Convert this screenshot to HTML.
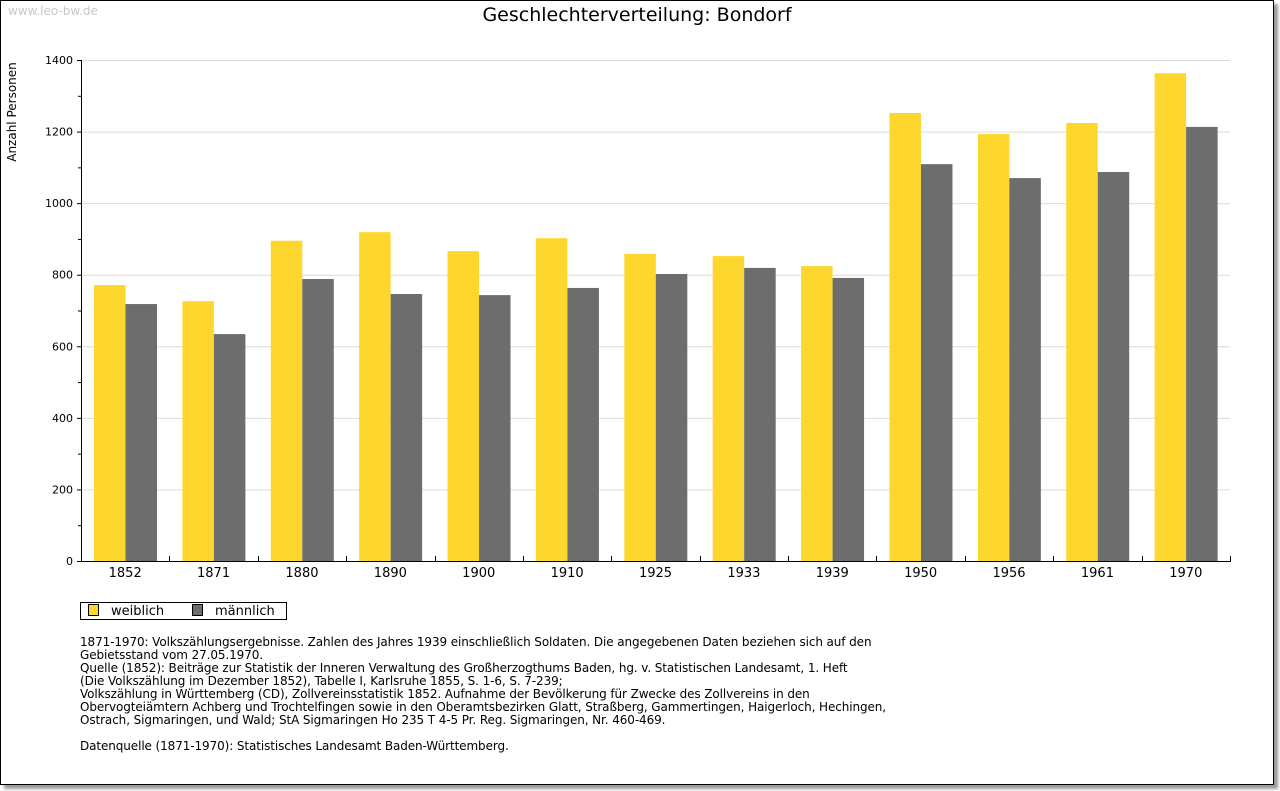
<!DOCTYPE html>
<html><head><meta charset="utf-8"><style>
body{margin:0;background:#fff;font-family:"Liberation Sans","DejaVu Sans",sans-serif;}
#frame{position:absolute;left:0;top:0;width:1272px;height:783px;border:1px solid #000;box-shadow:4px 4px 3px #999;background:#fff;}
.note{position:absolute;left:80px;top:636px;font-size:12px;line-height:13px;color:#000;font-family:"DejaVu Sans","Liberation Sans",sans-serif;letter-spacing:-0.1px;}
</style></head><body>
<div id="frame"></div>
<svg id="chart" width="1280" height="791" style="position:absolute;left:0;top:0" font-family="DejaVu Sans, Liberation Sans, sans-serif">
<text x="8" y="15" font-size="12" fill="#c8c8c8">www.leo-bw.de</text>
<text x="637" y="21" font-size="19" text-anchor="middle">Geschlechterverteilung: Bondorf</text>
<text transform="translate(16,112) rotate(-90)" font-size="12" text-anchor="middle">Anzahl Personen</text>
<g id="grid"></g><g id="bars"></g><g id="axes"></g>
<g>
<rect x="80.5" y="602.5" width="206" height="17" fill="#fff" stroke="#000"/>
<rect x="88.5" y="604.5" width="10" height="11" fill="#fdd72e" stroke="#000"/>
<text x="111" y="615" font-size="13">weiblich</text>
<rect x="192.5" y="604.5" width="10" height="11" fill="#6d6d6d" stroke="#000"/>
<text x="215" y="615" font-size="13">männlich</text>
</g>
</svg>
<div class="note">1871-1970: Volkszählungsergebnisse. Zahlen des Jahres 1939 einschließlich Soldaten. Die angegebenen Daten beziehen sich auf den<br>Gebietsstand vom 27.05.1970.<br>Quelle (1852): Beiträge zur Statistik der Inneren Verwaltung des Großherzogthums Baden, hg. v. Statistischen Landesamt, 1. Heft<br>(Die Volkszählung im Dezember 1852), Tabelle I, Karlsruhe 1855, S. 1-6, S. 7-239;<br>Volkszählung in Württemberg (CD), Zollvereinsstatistik 1852. Aufnahme der Bevölkerung für Zwecke des Zollvereins in den<br>Obervogteiämtern Achberg und Trochtelfingen sowie in den Oberamtsbezirken Glatt, Straßberg, Gammertingen, Haigerloch, Hechingen,<br>Ostrach, Sigmaringen, und Wald; StA Sigmaringen Ho 235 T 4-5 Pr. Reg. Sigmaringen, Nr. 460-469.<br><br>Datenquelle (1871-1970): Statistisches Landesamt Baden-Württemberg.</div>
<script>
const categories=["1852","1871","1880","1890","1900","1910","1925","1933","1939","1950","1956","1961","1970"];
const weiblich=[771,726,895,919,866,902,858,852,824,1252,1193,1224,1363];
const maennlich=[718,634,788,746,743,763,802,819,791,1109,1070,1087,1213];
const yTicks=[0,200,400,600,800,1000,1200,1400];
const NS="http://www.w3.org/2000/svg";
const X0=81,X1=1230,Y0=561,Y1=60,YMAX=1400;
const cw=(X1-X0)/categories.length;
const y=v=>Y0-(v/YMAX)*(Y0-Y1);
function mk(t,a,p){const e=document.createElementNS(NS,t);for(const k in a)e.setAttribute(k,a[k]);p.appendChild(e);return e;}
const grid=document.getElementById('grid'),bars=document.getElementById('bars'),axes=document.getElementById('axes');
yTicks.forEach(v=>{
 if(v>0){const g=mk('line',{x1:X0,x2:X1,y1:y(v)+0.5,y2:y(v)+0.5,stroke:'#dcdcdc'},grid);
 
 }
 const t=mk('text',{x:73,y:y(v)+4,'font-size':11,'text-anchor':'end'},axes);t.textContent=v;
 
 
 mk('line',{x1:X0-4,x2:X0,y1:y(v)+0.5,y2:y(v)+0.5,stroke:'#000'},axes);
 if(v<YMAX)mk('line',{x1:X0-3,x2:X0,y1:y(v+100)+0.5,y2:y(v+100)+0.5,stroke:'#000'},axes);
});
const bw=31.5;
categories.forEach((c,i)=>{
 const gx=X0+i*cw+13;
 const b1=mk('rect',{x:gx,y:y(weiblich[i]),width:bw,height:Y0-y(weiblich[i]),fill:'#fdd72e'},bars);
 
 
 const b2=mk('rect',{x:gx+bw,y:y(maennlich[i]),width:bw,height:Y0-y(maennlich[i]),fill:'#6d6d6d'},bars);
 
 
 const t=mk('text',{x:X0+(i+0.5)*cw,y:577,'font-size':13,'text-anchor':'middle'},axes);t.textContent=c;
 
 
 const tx=Math.round(X0+(i+1)*cw)+0.5;
 mk('line',{x1:tx,x2:tx,y1:Y0-5,y2:Y0,stroke:'#000'},axes);
});
const ya=mk('line',{x1:X0+0.5,x2:X0+0.5,y1:Y1,y2:Y0+0.5,stroke:'#000'},axes);


const xa=mk('line',{x1:X0,x2:X1+1,y1:Y0+0.5,y2:Y0+0.5,stroke:'#000'},axes);


</script>
</body></html>
